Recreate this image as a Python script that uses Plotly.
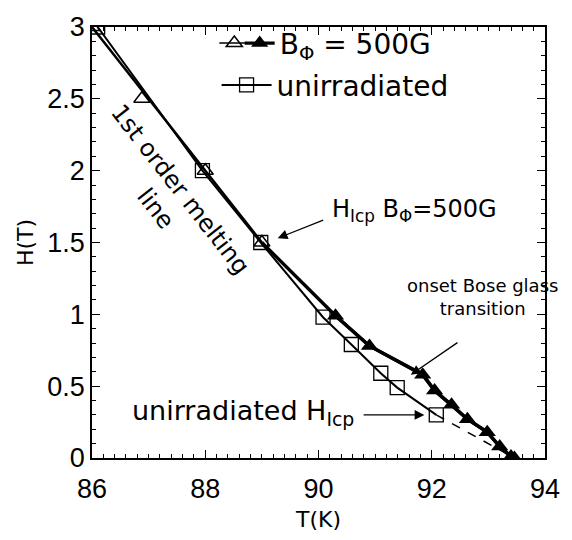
import plotly.graph_objects as go

# Melting line shared by both samples (K, T)
T_melt = [86.0, 88.0, 89.0]
H_melt = [3.0, 2.0, 1.5]

# B_phi = 500 G: open triangles on the first-order line
T_open = [86.0, 86.88, 88.0, 89.0]
H_open = [3.0, 2.5, 2.0, 1.5]

# B_phi = 500 G: Bose glass onset (starts at the critical point)
T_bg = [89.0, 90.3, 90.9, 91.84, 92.05, 92.35, 92.63, 92.98, 93.2, 93.4, 93.46]
H_bg = [1.5, 0.99, 0.78, 0.58, 0.47, 0.37, 0.27, 0.18, 0.08, 0.01, 0.0]

# Unirradiated crystal
T_un = [86.1, 87.95, 88.98, 90.08, 90.58, 91.1, 91.39, 92.08]
H_un = [3.0, 2.0, 1.5, 0.98, 0.79, 0.59, 0.49, 0.30]

TICK_FONT = "Liberation Sans"
TEXT_FONT = "DejaVu Sans"
BLACK = "black"


def isolated(values):
    """Separate points with gaps so no connecting line is drawn."""
    out = []
    for v in values:
        out += [v, None]
    return out[:-1]


fig = go.Figure()

fig.add_trace(go.Scatter(x=T_melt, y=H_melt, mode="lines",
                         line=dict(color=BLACK, width=2.5), showlegend=False))
fig.add_trace(go.Scatter(x=T_un, y=H_un, mode="lines+markers",
                         line=dict(color=BLACK, width=2),
                         marker=dict(symbol="square-open", size=14, color=BLACK,
                                     line=dict(width=1.3)),
                         name="unirradiated", legend="legend3"))
fig.add_trace(go.Scatter(x=[T_un[-1], T_bg[-1]], y=[H_un[-1], H_bg[-1]], mode="lines",
                         line=dict(color=BLACK, width=1.5, dash="dash"), showlegend=False))
fig.add_trace(go.Scatter(x=T_bg, y=H_bg, mode="lines",
                         line=dict(color=BLACK, width=3.4), showlegend=False))
fig.add_trace(go.Scatter(x=isolated(T_open), y=isolated(H_open), mode="lines+markers",
                         connectgaps=False,
                         line=dict(color=BLACK, width=1.5),
                         marker=dict(symbol="triangle-up-open", size=14, color=BLACK,
                                     line=dict(width=1.5)),
                         name=" ", legend="legend"))
fig.add_trace(go.Scatter(x=T_bg[1:], y=H_bg[1:], mode="lines+markers",
                         line=dict(color=BLACK, width=3.4),
                         marker=dict(symbol="triangle-up", size=15, color=BLACK),
                         name="B<sub>Φ</sub> = 500G", legend="legend2"))

arrow = dict(xref="x", yref="y", axref="x", ayref="y", text="", showarrow=True,
             arrowhead=2, arrowsize=1.5, arrowwidth=1.3, arrowcolor=BLACK)
annotations = [
    dict(x=87.35, y=1.80, xref="x", yref="y", text="1st order melting<br>line",
         showarrow=False, textangle=52,
         font=dict(family=TEXT_FONT, size=24, color=BLACK)),
    dict(x=89.28, y=1.53, ax=90.11, ay=1.66, **arrow),
    dict(x=90.2, y=1.72, xref="x", yref="y", xanchor="left",
         text="H<sub>Icp</sub> B<sub>Φ</sub>=500G", showarrow=False,
         font=dict(family=TEXT_FONT, size=24, color=BLACK)),
    dict(x=92.9, y=1.12, xref="x", yref="y", text="onset Bose glass<br>transition",
         showarrow=False, font=dict(family=TEXT_FONT, size=18, color=BLACK)),
    dict(x=91.63, y=0.58, ax=92.48, ay=0.81, **arrow),
    dict(x=88.66, y=0.32, xref="x", yref="y", text="unirradiated H<sub>Icp</sub>",
         showarrow=False, font=dict(family=TEXT_FONT, size=27, color=BLACK)),
    dict(x=91.87, y=0.30, ax=90.77, ay=0.30, **arrow),
]

axis_common = dict(showline=True, linecolor=BLACK, linewidth=1.5, mirror="allticks",
                   ticks="inside", ticklen=8, tickwidth=1.3, tickcolor=BLACK,
                   showgrid=False, zeroline=False,
                   tickfont=dict(family=TICK_FONT, size=27, color=BLACK))

legend_common = dict(xanchor="left", yanchor="middle", bgcolor="rgba(0,0,0,0)",
                     font=dict(family=TEXT_FONT, size=28, color=BLACK))

fig.update_layout(
    width=572, height=540,
    margin=dict(l=92, r=17, t=15, b=82),
    plot_bgcolor="white", paper_bgcolor="white",
    xaxis=dict(range=[86, 94], dtick=2, tick0=86, ticklabelstandoff=6,
               minor=dict(dtick=0.2, ticks="inside", ticklen=4, tickcolor=BLACK),
               title=dict(text="T(K)", font=dict(family=TEXT_FONT, size=22, color=BLACK),
                          standoff=8),
               **axis_common),
    yaxis=dict(range=[0, 3], dtick=0.5, tick0=0,
               minor=dict(dtick=0.1, ticks="inside", ticklen=4, tickcolor=BLACK),
               title=dict(text="H(T)", font=dict(family=TEXT_FONT, size=22, color=BLACK),
                          standoff=8),
               **axis_common),
    legend=dict(x=0.27, y=0.962, itemwidth=30, **legend_common),
    legend2=dict(x=0.326, y=0.962, itemwidth=30, **legend_common),
    legend3=dict(x=0.275, y=0.865, itemwidth=50, **legend_common),
    annotations=annotations,
)

fig.write_html("out.html")
